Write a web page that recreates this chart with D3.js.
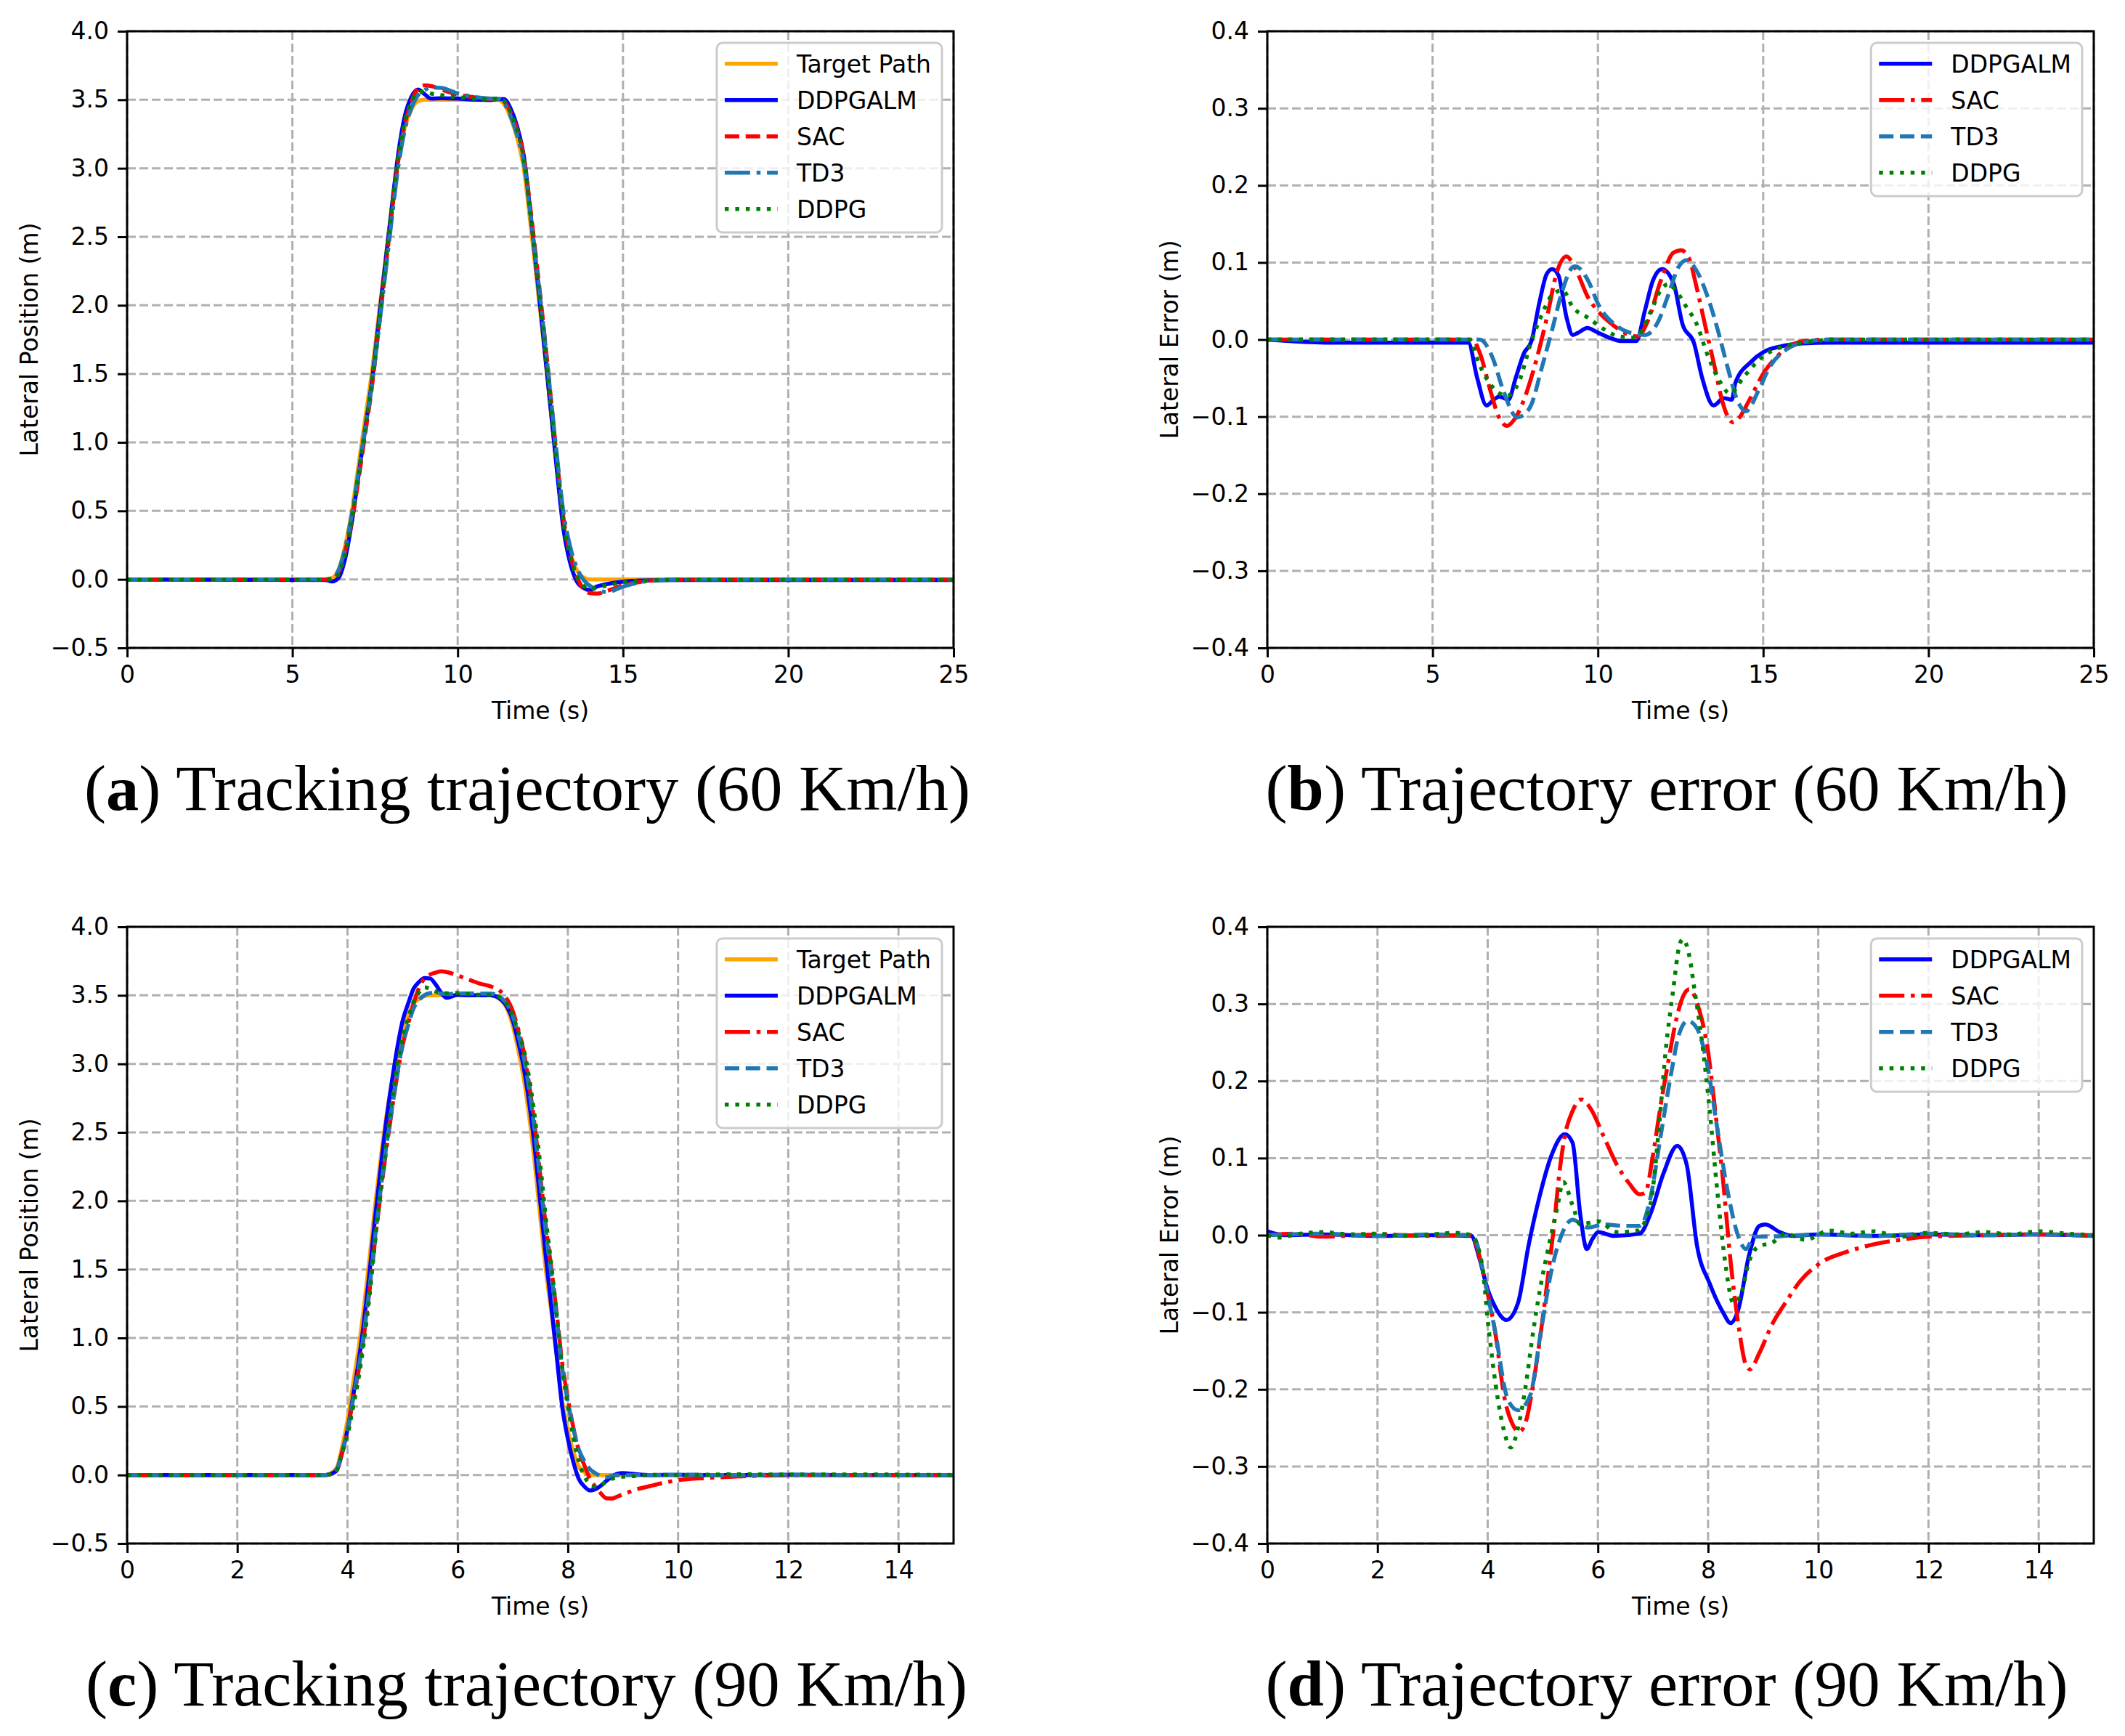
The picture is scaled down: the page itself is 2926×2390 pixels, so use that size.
<!DOCTYPE html>
<html>
<head>
<meta charset="utf-8">
<script src="https://cdn.jsdelivr.net/npm/d3@7"></script>
<style>
  body { margin: 0; background: #fff; }
  svg { display: block; }
  text { font-family: "DejaVu Sans", sans-serif; }
</style>
</head>
<body>
<div id="fig"></div>
<script>
// ---- (a) tracking trajectory, 60 km/h ----
const tA = [0, 6.0, 6.2, 6.4, 6.6, 6.8, 7.0, 7.2, 7.4, 7.6, 7.8, 8.0, 8.2, 8.4, 8.6, 8.8, 9.0, 9.2, 9.5, 10.0, 10.5, 11.0,
            11.2, 11.4, 11.6, 11.8, 12.0, 12.2, 12.4, 12.6, 12.8, 13.0, 13.2, 13.4, 13.6, 13.8, 14.0, 14.2, 14.5, 15.0, 15.5, 16.0, 17.0, 25];
const targetA  = [0, 0, 0.01, 0.07, 0.25, 0.5, 0.83, 1.17, 1.5, 1.9, 2.3, 2.7, 3.06, 3.3, 3.43, 3.49, 3.5, 3.5, 3.5, 3.5, 3.5, 3.5,
                  3.5, 3.47, 3.37, 3.22, 3.0, 2.6, 2.17, 1.73, 1.27, 0.82, 0.42, 0.2, 0.07, 0.015, 0, 0, 0, 0, 0, 0, 0, 0];
const ddpgalmA = [0, -0.004, -0.015, 0.012, 0.156, 0.42, 0.756, 1.093, 1.434, 1.855, 2.285, 2.699, 3.102, 3.38, 3.521, 3.574, 3.54, 3.508, 3.511, 3.509, 3.5, 3.498,
                  3.504, 3.505, 3.436, 3.305, 3.09, 2.678, 2.22, 1.746, 1.273, 0.8, 0.365, 0.123, -0.013, -0.061, -0.078, -0.053, -0.035, -0.016, -0.009, -0.006, -0.004, -0.004];
const sacA     = [0, 0, 0.01, 0.054, 0.21, 0.427, 0.73, 1.06, 1.393, 1.807, 2.23, 2.654, 3.05, 3.319, 3.486, 3.581, 3.605, 3.6, 3.575, 3.537, 3.518, 3.506,
                  3.504, 3.487, 3.406, 3.283, 3.086, 2.707, 2.284, 1.842, 1.37, 0.885, 0.447, 0.188, 0.023, -0.068, -0.1, -0.104, -0.085, -0.044, -0.019, -0.006, 0, 0];
const td3A     = [0, 0, 0.01, 0.07, 0.23, 0.477, 0.782, 1.098, 1.408, 1.8, 2.204, 2.617, 3.007, 3.278, 3.44, 3.533, 3.571, 3.59, 3.586, 3.547, 3.52, 3.509,
                  3.507, 3.476, 3.382, 3.242, 3.043, 2.666, 2.259, 1.83, 1.368, 0.908, 0.488, 0.242, 0.087, -0.001, -0.047, -0.075, -0.092, -0.053, -0.022, -0.008, 0, 0];
const ddpgA    = [0, 0, 0.001, 0.039, 0.193, 0.439, 0.763, 1.098, 1.434, 1.844, 2.27, 2.699, 3.08, 3.342, 3.487, 3.551, 3.559, 3.545, 3.534, 3.519, 3.507, 3.503,
                  3.508, 3.492, 3.406, 3.275, 3.068, 2.668, 2.23, 1.778, 1.304, 0.839, 0.414, 0.172, 0.023, -0.045, -0.07, -0.06, -0.045, -0.021, -0.012, -0.005, 0, 0];

// ---- (b) lateral error, 60 km/h : [time, error] ----
const errB_ddpgalm = [[0,0],[2,-0.004],[6.08,-0.004],[6.35,-0.05],[6.63,-0.0855],[6.85,-0.078],[7.02,-0.074],[7.29,-0.078],[7.52,-0.049],[7.76,-0.018],
  [7.99,-0.002],[8.23,0.048],[8.45,0.085],[8.62,0.0915],[8.81,0.083],[9.05,0.029],[9.24,0.006],[9.45,0.01],[9.67,0.015],[10.0,0.009],[10.34,0.0025],
  [10.73,-0.002],[11.16,-0.002],[11.43,0.039],[11.66,0.076],[11.94,0.0915],[12.29,0.073],[12.56,0.02],[12.91,-0.005],[13.15,-0.049],[13.5,-0.0855],
  [13.81,-0.076],[14.05,-0.078],[14.16,-0.056],[14.63,-0.029],[15.02,-0.016],[15.57,-0.0085],[16.2,-0.005],[17,-0.004],[25,-0.004]];
const errB_sac = [[0,0],[6.2,0],[6.45,-0.02],[6.74,-0.065],[7.0,-0.1],[7.25,-0.112],[7.45,-0.105],[7.68,-0.087],[8.07,-0.037],[8.46,0.029],[8.77,0.089],
  [9.05,0.108],[9.32,0.092],[9.71,0.054],[10.0,0.037],[10.34,0.023],[10.8,0.009],[11.2,0.004],[11.5,0.023],[11.9,0.076],[12.29,0.113],[12.52,0.116],
  [12.76,0.105],[12.99,0.067],[13.27,0.0135],[13.54,-0.037],[13.77,-0.081],[14.09,-0.1075],[14.3,-0.1],[14.55,-0.081],[15.02,-0.043],[15.57,-0.016],
  [16.2,-0.002],[17,0],[25,0]];
const errB_td3 = [[0,0],[6.43,0],[6.82,-0.024],[7.13,-0.065],[7.56,-0.101],[7.75,-0.098],[7.99,-0.084],[8.3,-0.037],[8.62,0.0135],[8.93,0.064],[9.24,0.094],
  [9.32,0.095],[9.71,0.076],[10.02,0.045],[10.5,0.02],[10.96,0.009],[11.43,0.006],[11.82,0.023],[12.13,0.058],[12.45,0.095],[12.68,0.103],[12.99,0.089],
  [13.3,0.058],[13.62,0.0135],[13.93,-0.037],[14.24,-0.081],[14.48,-0.093],[14.87,-0.065],[15.18,-0.037],[15.73,-0.012],[16.43,-0.002],[17,0],[25,0]];
const errB_ddpg = [[0,0],[6.1,0],[6.43,-0.034],[6.82,-0.062],[7.25,-0.073],[7.6,-0.056],[7.99,-0.002],[8.3,0.032],[8.62,0.058],[8.93,0.064],[9.24,0.042],
  [9.71,0.028],[10.18,0.0135],[10.65,0.004],[11.12,0.0025],[11.59,0.0355],[11.9,0.064],[12.13,0.072],[12.45,0.058],[12.68,0.042],[12.99,0.02],
  [13.3,-0.018],[13.62,-0.049],[14.01,-0.07],[14.4,-0.049],[15.02,-0.021],[15.8,-0.007],[16.6,-0.002],[17,0],[25,0]];

// ---- (c) tracking trajectory, 90 km/h ----
const tC = [0, 3.6, 3.8, 3.9, 4.0, 4.1, 4.2, 4.3, 4.4, 4.5, 4.6, 4.7, 4.8, 4.9, 5.0, 5.1, 5.2, 5.3, 5.4, 5.5, 5.6, 5.7, 5.8,
            6.0, 6.2, 6.4, 6.6, 6.8, 7.0, 7.1, 7.2, 7.3, 7.4, 7.5, 7.6, 7.7, 7.8, 7.9, 8.0, 8.1, 8.2, 8.3, 8.4, 8.5, 8.6, 8.7, 8.8, 8.9, 9.0,
            9.2, 9.5, 10, 10.5, 11, 12, 13, 15];
const targetC  = [0, 0, 0.05, 0.2, 0.4, 0.66, 0.92, 1.23, 1.58, 1.96, 2.3, 2.6, 2.85, 3.07, 3.25, 3.35, 3.44, 3.476, 3.495, 3.5, 3.5, 3.5, 3.5,
                  3.5, 3.5, 3.5, 3.5, 3.46, 3.28, 3.1, 2.89, 2.61, 2.27, 1.88, 1.5, 1.19, 0.87, 0.53, 0.32, 0.17, 0.06, 0.02, 0, 0, 0, 0, 0, 0, 0,
                  0, 0, 0, 0, 0, 0, 0, 0];
const ddpgalmC = [0, 0, 0.03, 0.16, 0.33, 0.57, 0.82, 1.12, 1.475, 1.87, 2.23, 2.57, 2.855, 3.108, 3.314, 3.439, 3.549, 3.598, 3.626, 3.623, 3.58, 3.52, 3.482,
                  3.504, 3.5, 3.5, 3.501, 3.465, 3.318, 3.16, 2.972, 2.71, 2.384, 1.99, 1.594, 1.23, 0.856, 0.49, 0.263, 0.093, -0.03, -0.084, -0.113, -0.104, -0.077, -0.042, -0.012, 0.009, 0.014,
                  0.007, 0, 0.001, 0, -0.001, 0.001, 0, 0];
const sacC     = [0, 0, 0.036, 0.155, 0.32, 0.545, 0.757, 1.022, 1.345, 1.71, 2.046, 2.36, 2.645, 2.91, 3.135, 3.29, 3.44, 3.556, 3.624, 3.652, 3.666, 3.676, 3.67,
                  3.645, 3.615, 3.586, 3.565, 3.52, 3.384, 3.25, 3.085, 2.843, 2.542, 2.183, 1.815, 1.507, 1.17, 0.806, 0.558, 0.345, 0.177, 0.07, -0.027, -0.087, -0.135, -0.17, -0.172, -0.157, -0.142,
                  -0.111, -0.08, -0.038, -0.022, -0.012, -0.002, 0, 0];
const td3C     = [0, 0, 0.04, 0.16, 0.322, 0.547, 0.77, 1.04, 1.363, 1.735, 2.074, 2.383, 2.654, 2.917, 3.139, 3.28, 3.405, 3.466, 3.502, 3.516, 3.518, 3.514, 3.51,
                  3.513, 3.514, 3.512, 3.512, 3.478, 3.348, 3.212, 3.045, 2.808, 2.505, 2.143, 1.775, 1.464, 1.138, 0.772, 0.535, 0.336, 0.184, 0.101, 0.043, 0.013, -0.008, -0.017, -0.005, -0.002, -0.002,
                  0, 0, 0.001, 0, -0.001, 0.002, 0, 0];
const ddpgC    = [0, 0, 0.032, 0.163, 0.29, 0.493, 0.702, 0.976, 1.308, 1.7, 2.07, 2.41, 2.712, 2.978, 3.198, 3.333, 3.455, 3.523, 3.559, 3.546, 3.528, 3.514, 3.515,
                  3.518, 3.51, 3.504, 3.505, 3.477, 3.35, 3.236, 3.104, 2.89, 2.611, 2.263, 1.873, 1.53, 1.165, 0.775, 0.5, 0.275, 0.096, -0.009, -0.067, -0.085, -0.076, -0.047, -0.028, -0.017, -0.013,
                  -0.008, 0.001, 0, 0.002, 0.005, 0.003, 0.004, 0];

// ---- (d) lateral error, 90 km/h : [time, error] ----
const errD_ddpgalm = [[0,0.005],[0.3,0],[1,0.001],[2,-0.001],[3,0],[3.7,-0.001],[3.85,-0.03],[3.99,-0.068],[4.15,-0.095],[4.34,-0.11],[4.55,-0.088],
  [4.74,-0.014],[4.93,0.047],[5.16,0.104],[5.4,0.131],[5.54,0.12],[5.68,0.027],[5.8,-0.018],[5.9,-0.005],[6.01,0.004],[6.29,-0.001],[6.76,0.002],
  [6.95,0.027],[7.19,0.08],[7.44,0.116],[7.61,0.092],[7.8,-0.014],[8.03,-0.063],[8.27,-0.1],[8.41,-0.114],[8.55,-0.096],[8.74,-0.027],[8.93,0.012],
  [9.04,0.014],[9.3,0.004],[9.54,-0.001],[10,0.001],[11,-0.001],[12,0.001],[13,0],[14,0.001],[15,-0.001]];
const errD_sac = [[0,0],[0.5,0.002],[1,-0.002],[2,0.001],[3,-0.001],[3.7,0],[3.8,-0.014],[3.95,-0.06],[4.13,-0.123],[4.31,-0.213],[4.45,-0.245],
  [4.57,-0.255],[4.7,-0.24],[4.81,-0.2],[4.97,-0.123],[5.1,-0.05],[5.2,0.01],[5.3,0.08],[5.4,0.129],[5.54,0.161],[5.7,0.176],[5.87,0.164],[6.1,0.129],
  [6.34,0.092],[6.57,0.067],[6.76,0.053],[6.86,0.055],[7.0,0.104],[7.14,0.169],[7.28,0.226],[7.42,0.279],[7.56,0.312],[7.66,0.319],[7.84,0.292],
  [7.99,0.243],[8.13,0.161],[8.27,0.072],[8.41,-0.035],[8.55,-0.116],[8.69,-0.169],[8.76,-0.174],[8.93,-0.153],[9.16,-0.116],[9.4,-0.088],[9.68,-0.059],
  [10.06,-0.035],[10.5,-0.022],[11,-0.012],[11.5,-0.006],[12,-0.002],[13,0],[14,0.001],[15,0]];
const errD_td3 = [[0,0],[1,0.002],[2,-0.001],[3,0.001],[3.7,0],[3.8,-0.01],[3.95,-0.06],[4.13,-0.123],[4.37,-0.214],[4.55,-0.227],[4.77,-0.208],
  [4.97,-0.123],[5.16,-0.045],[5.35,0.002],[5.54,0.02],[5.82,0.01],[6.1,0.014],[6.48,0.012],[6.76,0.012],[6.95,0.047],[7.14,0.129],[7.33,0.21],
  [7.47,0.26],[7.63,0.278],[7.8,0.268],[7.99,0.219],[8.17,0.137],[8.36,0.055],[8.55,-0.002],[8.69,-0.018],[8.83,-0.002],[9.02,-0.002],[10,0.001],
  [11,-0.001],[12,0.002],[13,0],[14,0.001],[15,-0.001]];
const errD_ddpg = [[0,0],[0.2,-0.003],[0.6,0.002],[1,0.004],[1.5,0.001],[2,0.002],[2.5,-0.001],[3,0.001],[3.4,0.003],[3.7,0],[3.89,-0.035],
  [4.02,-0.123],[4.18,-0.211],[4.29,-0.252],[4.42,-0.2755],[4.55,-0.25],[4.68,-0.2],[4.83,-0.123],[4.95,-0.07],[5.07,-0.027],[5.26,0.035],[5.37,0.069],
  [5.54,0.039],[5.68,0.014],[6.01,0.018],[6.34,0.004],[6.72,0.006],[6.95,0.039],[7.12,0.149],[7.23,0.239],[7.37,0.32],[7.47,0.373],[7.54,0.384],
  [7.66,0.362],[7.75,0.32],[7.89,0.251],[8.03,0.161],[8.17,0.055],[8.31,-0.035],[8.46,-0.088],[8.6,-0.076],[8.74,-0.035],[8.93,-0.014],[9.16,-0.01],
  [9.4,0.002],[9.77,-0.006],[10.2,0.006],[10.6,0.002],[11,0.005],[11.5,-0.002],[12,0.003],[12.5,0.001],[13,0.004],[13.5,0.001],[14,0.005],[14.5,0.002],[15,0]];

// ticks
const xTicks25 = [0, 5, 10, 15, 20, 25];
const xTicks15 = [0, 2, 4, 6, 8, 10, 12, 14];
const yTicksPos = [-0.5, 0, 0.5, 1, 1.5, 2, 2.5, 3, 3.5, 4];
const yTicksErr = [-0.4, -0.3, -0.2, -0.1, 0, 0.1, 0.2, 0.3, 0.4];

const zipT = (ts, vs) => ts.map((t, i) => [t, vs[i]]);

const LW = 5.5;
const DASHED = "20,8.8", DASHDOT = "35,8.8,5.5,8.8", DOTTED = "5.5,9";
const C = { target: "#ffa500", ddpgalm: "#0000ff", sac: "#ff0000", td3: "#1f77b4", ddpg: "#008000" };

const W = 2926, H = 2390;
const svg = d3.select("#fig").append("svg").attr("width", W).attr("height", H);
svg.append("rect").attr("width", W).attr("height", H).attr("fill", "#fff");

const panels = [
  { id: "a", left: 175, top: 43, xDom: [0, 25], xTicks: xTicks25, yDom: [-0.5, 4], yTicks: yTicksPos,
    ylabel: "Lateral Position (m)", capX: 726, capW: 1220, caption: ") Tracking trajectory (60 Km/h)",
    series: [
      { name: "Target Path", data: zipT(tA, targetA), color: C.target, dash: null },
      { name: "DDPGALM", data: zipT(tA, ddpgalmA), color: C.ddpgalm, dash: null },
      { name: "SAC", data: zipT(tA, sacA), color: C.sac, dash: DASHED },
      { name: "TD3", data: zipT(tA, td3A), color: C.td3, dash: DASHDOT },
      { name: "DDPG", data: zipT(tA, ddpgA), color: C.ddpg, dash: DOTTED }
    ] },
  { id: "b", left: 1745, top: 43, xDom: [0, 25], xTicks: xTicks25, yDom: [-0.4, 0.4], yTicks: yTicksErr,
    ylabel: "Lateral Error (m)", capX: 2295, capW: 1105, caption: ") Trajectory error (60 Km/h)",
    series: [
      { name: "DDPGALM", data: errB_ddpgalm, color: C.ddpgalm, dash: null },
      { name: "SAC", data: errB_sac, color: C.sac, dash: DASHDOT },
      { name: "TD3", data: errB_td3, color: C.td3, dash: DASHED },
      { name: "DDPG", data: errB_ddpg, color: C.ddpg, dash: DOTTED }
    ] },
  { id: "c", left: 175, top: 1276, xDom: [0, 15], xTicks: xTicks15, yDom: [-0.5, 4], yTicks: yTicksPos,
    ylabel: "Lateral Position (m)", capX: 725, capW: 1214, caption: ") Tracking trajectory (90 Km/h)",
    series: [
      { name: "Target Path", data: zipT(tC, targetC), color: C.target, dash: null },
      { name: "DDPGALM", data: zipT(tC, ddpgalmC), color: C.ddpgalm, dash: null },
      { name: "SAC", data: zipT(tC, sacC), color: C.sac, dash: DASHDOT },
      { name: "TD3", data: zipT(tC, td3C), color: C.td3, dash: DASHED },
      { name: "DDPG", data: zipT(tC, ddpgC), color: C.ddpg, dash: DOTTED }
    ] },
  { id: "d", left: 1745, top: 1276, xDom: [0, 15], xTicks: xTicks15, yDom: [-0.4, 0.4], yTicks: yTicksErr,
    ylabel: "Lateral Error (m)", capX: 2295, capW: 1105, caption: ") Trajectory error (90 Km/h)",
    series: [
      { name: "DDPGALM", data: errD_ddpgalm, color: C.ddpgalm, dash: null },
      { name: "SAC", data: errD_sac, color: C.sac, dash: DASHDOT },
      { name: "TD3", data: errD_td3, color: C.td3, dash: DASHED },
      { name: "DDPG", data: errD_ddpg, color: C.ddpg, dash: DOTTED }
    ] }
];

const pw = 1138, ph = 849;

panels.forEach(p => {
  const g = svg.append("g").attr("transform", `translate(${p.left},${p.top})`);
  const x = d3.scaleLinear().domain(p.xDom).range([0, pw]);
  const y = d3.scaleLinear().domain(p.yDom).range([ph, 0]);

  // grid
  g.append("g").selectAll("line").data(p.xTicks).join("line")
    .attr("x1", d => x(d)).attr("x2", d => x(d)).attr("y1", 0).attr("y2", ph)
    .attr("stroke", "#b0b0b0").attr("stroke-width", 3).attr("stroke-dasharray", "12,5");
  g.append("g").selectAll("line").data(p.yTicks).join("line")
    .attr("x1", 0).attr("x2", pw).attr("y1", d => y(d)).attr("y2", d => y(d))
    .attr("stroke", "#b0b0b0").attr("stroke-width", 3).attr("stroke-dasharray", "12,5");

  // lines
  g.append("clipPath").attr("id", "clip" + p.id)
    .append("rect").attr("width", pw).attr("height", ph);
  const line = d3.line().x(d => x(d[0])).y(d => y(d[1])).curve(d3.curveMonotoneX);
  const lg = g.append("g").attr("clip-path", `url(#clip${p.id})`);
  p.series.forEach(s => {
    lg.append("path").datum(s.data)
      .attr("d", line)
      .attr("fill", "none")
      .attr("stroke", s.color)
      .attr("stroke-width", LW)
      .attr("stroke-linejoin", "round")
      .attr("stroke-dasharray", s.dash);
  });

  // axes
  const xAxis = g.append("g").attr("transform", `translate(0,${ph})`)
    .call(d3.axisBottom(x).tickValues(p.xTicks).tickFormat(d3.format("d")).tickSize(13).tickSizeOuter(0).tickPadding(12));
  const yAxis = g.append("g")
    .call(d3.axisLeft(y).tickValues(p.yTicks).tickFormat(d3.format(".1f")).tickSize(13).tickSizeOuter(0).tickPadding(12));
  [xAxis, yAxis].forEach(a => {
    a.select(".domain").remove();
    a.selectAll(".tick line").attr("stroke", "#000").attr("stroke-width", 3);
    a.selectAll(".tick text").attr("fill", "#000")
      .style("font-size", "33px").style("font-family", "'DejaVu Sans', sans-serif");
  });
  g.append("rect").attr("width", pw).attr("height", ph)
    .attr("fill", "none").attr("stroke", "#000").attr("stroke-width", 3);

  // axis labels
  g.append("text").attr("x", pw / 2).attr("y", ph + 98)
    .attr("text-anchor", "middle").style("font-size", "33px").text("Time (s)");
  g.append("text").attr("transform", `translate(-123,${ph / 2}) rotate(-90)`)
    .attr("text-anchor", "middle").style("font-size", "33px").text(p.ylabel);

  // legend
  const leg = g.append("g");
  const box = leg.append("rect");
  const items = leg.selectAll("g.item").data(p.series).join("g").attr("class", "item");
  const texts = items.append("text").style("font-size", "33px").text(d => d.name);
  let maxW = 0;
  texts.each(function () { maxW = Math.max(maxW, this.getComputedTextLength()); });
  const bw = 110 + maxW + 15, bh = 11 + 50 * p.series.length;
  const bx = pw - 16 - bw, by = 16;
  box.attr("x", bx).attr("y", by).attr("width", bw).attr("height", bh).attr("rx", 8)
    .attr("fill", "#fff").attr("fill-opacity", 0.8).attr("stroke", "#cccccc").attr("stroke-width", 3);
  items.attr("transform", (d, i) => `translate(${bx},${by + 28.7 + 50 * i})`);
  items.insert("line", "text").attr("x1", 11).attr("x2", 84).attr("y1", 0).attr("y2", 0)
    .attr("stroke", d => d.color).attr("stroke-width", LW).attr("stroke-dasharray", d => d.dash);
  texts.attr("x", 110).attr("y", 12);

  // caption
  const cap = svg.append("text")
    .attr("x", p.capX).attr("y", p.top + 1072)
    .attr("text-anchor", "middle")
    .attr("textLength", p.capW).attr("lengthAdjust", "spacingAndGlyphs")
    .style("font-family", "'Liberation Serif', serif").style("font-size", "88px");
  cap.append("tspan").text("(");
  cap.append("tspan").style("font-weight", "bold").text(p.id);
  cap.append("tspan").text(p.caption);
});
</script>
</body>
</html>
